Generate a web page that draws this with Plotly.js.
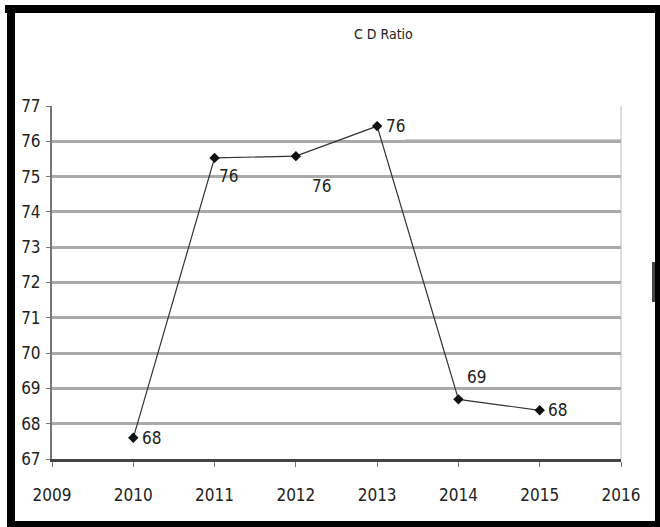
<!DOCTYPE html>
<html>
<head>
<meta charset="utf-8">
<script src="https://cdn.plot.ly/plotly-3.0.1.min.js"></script>
<style>
html,body{margin:0;padding:0;background:#fff;}
#chart{width:660px;height:527px;}
</style>
</head>
<body>
<div id="chart"></div>
<script>
// ---- data ----
var years = [2010, 2011, 2012, 2013, 2014, 2015];
var cdRatio = [67.6, 75.53, 75.58, 76.43, 68.69, 68.38];
var dataLabels = ["68", "76", "76", "76", "69", "68"];
var xTickVals = [2009, 2010, 2011, 2012, 2013, 2014, 2015, 2016];
var xTickText = ["2009", "2010", "2011", "2012", "2013", "2014", "2015", "2016"];
var yTickVals = [67, 68, 69, 70, 71, 72, 73, 74, 75, 76, 77];
var yTickText = ["67", "68", "69", "70", "71", "72", "73", "74", "75", "76", "77"];
var chartTitle = "C D Ratio";

// ---- layout geometry ----
var W = 660, H = 527;
var L = 52, R = 621, T = 106, B = 459;
function px(x){ return (x - L) / (R - L); }
function py(y){ return (B - y) / (B - T); }

var FONT = "'DejaVu Sans Condensed', 'Liberation Sans Narrow', Arial, sans-serif";

// label offsets (pixels) per point
var labelDX = [18, 14, 26, 18, 18, 18];
var labelDY = [0, 18, 30, 0, -22, 0];

var annotations = years.map(function(yr, i){
  return {
    x: yr, y: cdRatio[i], xref: 'x', yref: 'y',
    text: dataLabels[i], showarrow: false,
    xanchor: 'center', yanchor: 'middle',
    xshift: labelDX[i], yshift: -labelDY[i],
    font: {family: FONT, size: 17, color: '#222'}
  };
});
annotations.push({
  text: chartTitle, xref: 'paper', yref: 'paper',
  x: px(383), y: py(34), xanchor: 'center', yanchor: 'middle', showarrow: false,
  font: {family: FONT, size: 14, color: '#222'}
});

function band(x0, y0, x1, y1, color){
  return {type: 'rect', xref: 'paper', yref: 'paper',
    x0: px(x0), x1: px(x1), y0: py(y0), y1: py(y1),
    fillcolor: color, line: {width: 0}, layer: 'above'};
}

var shapes = [
  // outer black frame
  band(5, 5, 660, 13, '#000'),
  band(7, 5, 15, 527, '#000'),
  band(655, 5, 660, 527, '#000'),
  band(7, 521, 660, 527, '#000'),
  // small scan mark at right
  band(652, 262, 655, 302, '#444'),
  // right border of plot area
  {type: 'line', xref: 'paper', yref: 'paper', x0: 1, x1: 1, y0: 0, y1: 1,
   line: {color: '#bbb', width: 1}, layer: 'below'},
  // darker segment of the 76 gridline
  {type: 'line', xref: 'paper', yref: 'y', x0: px(405), x1: 1, y0: 76, y1: 76,
   line: {color: '#555', width: 3}, layer: 'below'}
];

var trace = {
  x: years, y: cdRatio, type: 'scatter', mode: 'lines+markers',
  line: {color: '#333', width: 1.2},
  marker: {symbol: 'diamond', size: 8, color: '#111'},
  hoverinfo: 'x+y'
};

var layout = {
  width: W, height: H,
  margin: {l: L, r: W - R, t: T, b: H - B, pad: 0},
  paper_bgcolor: '#fff', plot_bgcolor: '#fff',
  showlegend: false,
  xaxis: {
    range: [2009, 2016], tickvals: xTickVals, ticktext: xTickText,
    showgrid: false, zeroline: false,
    showline: true, linecolor: '#444', linewidth: 3,
    ticks: 'outside', ticklen: 5, tickcolor: '#777', tickwidth: 1,
    ticklabelstandoff: 14,
    tickfont: {family: FONT, size: 17, color: '#222'}
  },
  yaxis: {
    range: [67, 77], tickvals: yTickVals, ticktext: yTickText,
    showgrid: true, gridcolor: '#aaa', gridwidth: 3,
    zeroline: false,
    showline: true, linecolor: '#777', linewidth: 2,
    ticks: 'outside', ticklen: 4, tickcolor: '#777', tickwidth: 1,
    ticklabelstandoff: 2,
    tickfont: {family: FONT, size: 17, color: '#222'}
  },
  annotations: annotations,
  shapes: shapes
};

Plotly.newPlot('chart', [trace], layout, {displayModeBar: false, staticPlot: true});
</script>
</body>
</html>
